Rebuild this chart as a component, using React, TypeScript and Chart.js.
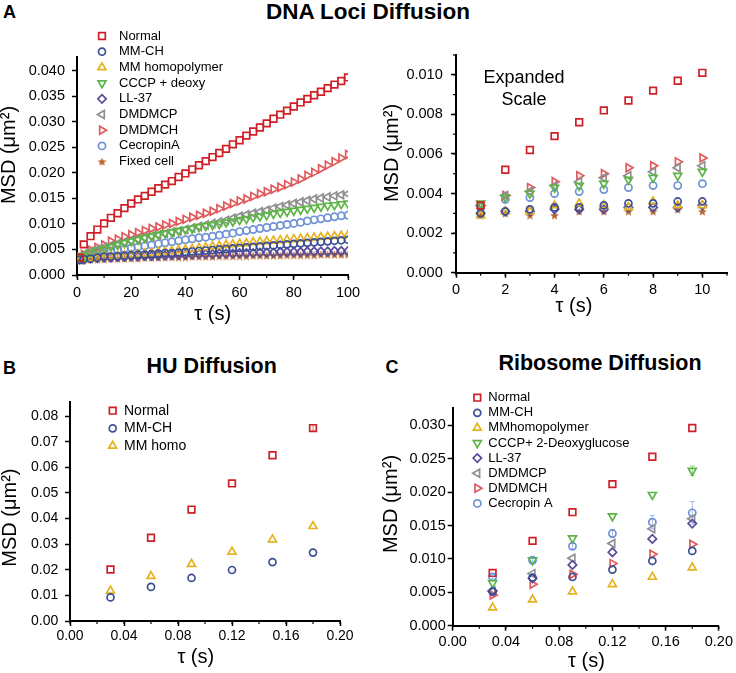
import React, { useEffect, useRef } from 'react';
import { Chart, registerables } from 'chart.js';
import { drawPoint } from 'chart.js/helpers';

Chart.register(...registerables);

const FONT = '"Liberation Sans", Arial, Helvetica, sans-serif';

// ---------------- DATA ----------------
// Panel A (left): DNA loci MSD, tau in seconds
const tauA = [1, 2.5, 5, 7.5, 10, 12.5, 15, 17.5, 20, 22.5, 25, 27.5, 30, 32.5, 35, 37.5, 40, 42.5, 45, 47.5, 50, 52.5, 55, 57.5, 60, 62.5, 65, 67.5, 70, 72.5, 75, 77.5, 80, 82.5, 85, 87.5, 90, 92.5, 95, 97.5, 100];
const dnaNormal = [0.0034, 0.0060, 0.0076, 0.0089, 0.0101, 0.0112, 0.0121, 0.0131, 0.0140, 0.0148, 0.0155, 0.0163, 0.0170, 0.0177, 0.0184, 0.0192, 0.0199, 0.0207, 0.0215, 0.0223, 0.0231, 0.0239, 0.0247, 0.0256, 0.0264, 0.0273, 0.0281, 0.0289, 0.0297, 0.0306, 0.0314, 0.0322, 0.0330, 0.0338, 0.0345, 0.0352, 0.0359, 0.0366, 0.0373, 0.0380, 0.0387];
const dnaMMCH = [0.0030, 0.0031, 0.0032, 0.0034, 0.0036, 0.0036, 0.0037, 0.0038, 0.0039, 0.0040, 0.0040, 0.0041, 0.0042, 0.0043, 0.0043, 0.0044, 0.0045, 0.0046, 0.0047, 0.0048, 0.0049, 0.0050, 0.0051, 0.0052, 0.0053, 0.0054, 0.0055, 0.0056, 0.0057, 0.0058, 0.0059, 0.0060, 0.0061, 0.0062, 0.0063, 0.0064, 0.0065, 0.0066, 0.0067, 0.0068, 0.0069];
const dnaMMhomo = [0.0030, 0.0030, 0.0032, 0.0033, 0.0034, 0.0036, 0.0037, 0.0038, 0.0039, 0.0041, 0.0042, 0.0043, 0.0045, 0.0046, 0.0047, 0.0049, 0.0050, 0.0051, 0.0053, 0.0054, 0.0056, 0.0057, 0.0059, 0.0060, 0.0061, 0.0062, 0.0064, 0.0065, 0.0066, 0.0067, 0.0068, 0.0069, 0.0070, 0.0071, 0.0072, 0.0073, 0.0074, 0.0075, 0.0076, 0.0077, 0.0078];
const dnaCCCP = [0.0035, 0.0038, 0.0044, 0.0048, 0.0051, 0.0055, 0.0059, 0.0063, 0.0066, 0.0069, 0.0073, 0.0076, 0.0079, 0.0082, 0.0084, 0.0087, 0.0089, 0.0091, 0.0094, 0.0096, 0.0098, 0.0100, 0.0103, 0.0105, 0.0108, 0.0110, 0.0113, 0.0115, 0.0117, 0.0120, 0.0122, 0.0124, 0.0126, 0.0128, 0.0130, 0.0132, 0.0134, 0.0136, 0.0137, 0.0139, 0.0140];
const dnaLL37 = [0.0030, 0.0030, 0.0032, 0.0033, 0.0034, 0.0034, 0.0035, 0.0035, 0.0036, 0.0036, 0.0037, 0.0037, 0.0038, 0.0038, 0.0039, 0.0039, 0.0040, 0.0040, 0.0041, 0.0041, 0.0041, 0.0042, 0.0042, 0.0042, 0.0043, 0.0043, 0.0043, 0.0044, 0.0044, 0.0044, 0.0045, 0.0045, 0.0045, 0.0045, 0.0046, 0.0046, 0.0046, 0.0046, 0.0047, 0.0047, 0.0047];
const dnaDMDMCP = [0.0034, 0.0040, 0.0046, 0.0050, 0.0054, 0.0058, 0.0061, 0.0064, 0.0067, 0.0070, 0.0073, 0.0076, 0.0078, 0.0081, 0.0084, 0.0086, 0.0089, 0.0092, 0.0095, 0.0098, 0.0101, 0.0104, 0.0107, 0.0111, 0.0115, 0.0118, 0.0121, 0.0124, 0.0127, 0.0131, 0.0134, 0.0137, 0.0140, 0.0143, 0.0146, 0.0149, 0.0151, 0.0153, 0.0155, 0.0157, 0.0159];
const dnaDMDMCH = [0.0035, 0.0040, 0.0049, 0.0054, 0.0059, 0.0066, 0.0070, 0.0075, 0.0079, 0.0083, 0.0087, 0.0091, 0.0094, 0.0098, 0.0101, 0.0105, 0.0109, 0.0113, 0.0117, 0.0121, 0.0125, 0.0130, 0.0135, 0.0140, 0.0145, 0.0149, 0.0154, 0.0159, 0.0163, 0.0168, 0.0172, 0.0177, 0.0182, 0.0188, 0.0195, 0.0201, 0.0208, 0.0215, 0.0222, 0.0229, 0.0236];
const dnaCecropin = [0.0033, 0.0037, 0.0040, 0.0043, 0.0045, 0.0047, 0.0049, 0.0051, 0.0053, 0.0055, 0.0057, 0.0059, 0.0061, 0.0063, 0.0065, 0.0067, 0.0069, 0.0071, 0.0073, 0.0074, 0.0076, 0.0078, 0.0080, 0.0082, 0.0085, 0.0087, 0.0089, 0.0091, 0.0093, 0.0095, 0.0097, 0.0099, 0.0101, 0.0103, 0.0106, 0.0108, 0.0110, 0.0112, 0.0114, 0.0116, 0.0117];
const dnaFixed = [0.0029, 0.0029, 0.0031, 0.0031, 0.0031, 0.0032, 0.0032, 0.0033, 0.0033, 0.0033, 0.0034, 0.0034, 0.0034, 0.0035, 0.0035, 0.0035, 0.0035, 0.0036, 0.0036, 0.0036, 0.0036, 0.0037, 0.0037, 0.0037, 0.0037, 0.0037, 0.0038, 0.0038, 0.0038, 0.0038, 0.0038, 0.0039, 0.0039, 0.0039, 0.0039, 0.0039, 0.0040, 0.0040, 0.0040, 0.0040, 0.0040];
const dnaLabels = ['Normal', 'MM-CH', 'MM homopolymer', 'CCCP + deoxy', 'LL-37', 'DMDMCP', 'DMDMCH', 'CecropinA', 'Fixed cell'];

// Panel A (right): expanded scale, first 10 s
const tauExp = [1, 2, 3, 4, 5, 6, 7, 8, 9, 10];
const expNormal = [0.0034, 0.0052, 0.0062, 0.0069, 0.0076, 0.0082, 0.0087, 0.0092, 0.0097, 0.0101];
const expMMCH = [0.0030, 0.0031, 0.0032, 0.0033, 0.0033, 0.0034, 0.0035, 0.0035, 0.0036, 0.0036];
const expMMhomo = [0.0029, 0.0031, 0.0031, 0.0034, 0.0035, 0.0034, 0.0033, 0.0036, 0.0034, 0.0034];
const expCCCP = [0.0035, 0.0038, 0.0040, 0.0043, 0.0044, 0.0045, 0.0047, 0.0048, 0.0049, 0.0051];
const expLL37 = [0.0030, 0.0031, 0.0031, 0.0032, 0.0032, 0.0032, 0.0033, 0.0033, 0.0033, 0.0034];
const expDMDMCP = [0.0034, 0.0039, 0.0041, 0.0044, 0.0046, 0.0048, 0.0049, 0.0051, 0.0053, 0.0054];
const expDMDMCH = [0.0034, 0.0039, 0.0043, 0.0046, 0.0049, 0.0050, 0.0053, 0.0054, 0.0056, 0.0058];
const expCecropin = [0.0033, 0.0037, 0.0038, 0.0040, 0.0041, 0.0042, 0.0043, 0.0044, 0.0044, 0.0045];
const expFixed = [0.0029, 0.0030, 0.0029, 0.0029, 0.0031, 0.0031, 0.0031, 0.0031, 0.0032, 0.0031];

// Panel B: HU diffusion
const tauHU = [0.03, 0.06, 0.09, 0.12, 0.15, 0.18];
const huNormal = [0.0201, 0.0325, 0.0435, 0.0537, 0.0647, 0.0753];
const huMMCH = [0.0092, 0.0133, 0.0168, 0.0199, 0.0230, 0.0267];
const huMMhomo = [0.0118, 0.0175, 0.0222, 0.0270, 0.0318, 0.0370];
const huNormalErr = [0, 0, 0, 0, 0, 0.0013];
const huLabels = ['Normal', 'MM-CH', 'MM homo'];

// Panel C: ribosome diffusion
const tauRibo = [0.03, 0.06, 0.09, 0.12, 0.15, 0.18];
const riboNormal = [0.0079, 0.0127, 0.0170, 0.0212, 0.0253, 0.0296];
const riboMMCH = [0.0051, 0.0072, 0.0073, 0.0084, 0.0097, 0.0112];
const riboMMhomo = [0.0027, 0.0039, 0.0051, 0.0062, 0.0073, 0.0087];
const riboCCCP = [0.0064, 0.0098, 0.0131, 0.0164, 0.0196, 0.0232];
const riboLL37 = [0.0052, 0.0071, 0.0091, 0.0110, 0.0130, 0.0153];
const riboDMDMCP = [0.0052, 0.0078, 0.0101, 0.0123, 0.0145, 0.0160];
const riboDMDMCH = [0.0046, 0.0062, 0.0077, 0.0093, 0.0107, 0.0122];
const riboCecropin = [0.0073, 0.0098, 0.0119, 0.0138, 0.0155, 0.0169];
const riboCecropinErr = [0.0003, 0.0003, 0.0004, 0.0006, 0.0010, 0.0017];
const riboCCCPErr = [0, 0, 0, 0, 0, 0.0007];
const riboLabels = ['Normal', 'MM-CH', 'MMhomopolymer', 'CCCP+ 2-Deoxyglucose', 'LL-37', 'DMDMCP', 'DMDMCH', 'Cecropin A'];

const xTitleText = 'τ (s)';
const yTitleText = 'MSD (μm²)';

// ---------------- STYLES ----------------
type Marker = { color: string; style: any; rotation: number; radius: number };
const markerStyles: Record<string, Marker> = {
  normal: { color: '#cf2027', style: 'rect', rotation: 0, radius: 4.7 },
  mmch: { color: '#3b4f95', style: 'circle', rotation: 0, radius: 3.5 },
  mmhomo: { color: '#e6b21f', style: 'triangle', rotation: 0, radius: 4.6 },
  cccp: { color: '#5cb546', style: 'triangle', rotation: 180, radius: 4.6 },
  ll37: { color: '#5a4b9b', style: 'rectRot', rotation: 0, radius: 4.2 },
  dmdmcp: { color: '#8f8f8f', style: 'triangle', rotation: -90, radius: 4.6 },
  dmdmch: { color: '#e05a5c', style: 'triangle', rotation: 90, radius: 4.6 },
  cecropin: { color: '#6e92d5', style: 'circle', rotation: 0, radius: 3.6 },
  fixed: { color: '#b8662c', style: 'star', rotation: 0, radius: 4.5 },
};

function makeStar(color: string, size: number) {
  const c = document.createElement('canvas');
  c.width = size;
  c.height = size;
  const g = c.getContext('2d')!;
  g.fillStyle = color;
  g.beginPath();
  for (let k = 0; k < 10; k++) {
    const r = k % 2 === 0 ? size / 2 : size / 4.4;
    const a = -Math.PI / 2 + (k * Math.PI) / 5;
    g.lineTo(size / 2 + r * Math.cos(a), size / 2 + 0.5 + r * Math.sin(a));
  }
  g.closePath();
  g.fill();
  return c;
}

// ---------------- PLUGINS ----------------
const panelLegend = {
  id: 'panelLegend',
  afterDraw(chart: any, _a: any, opts: any) {
    if (!opts || !opts.show) return;
    const ctx = chart.ctx;
    ctx.save();
    chart.data.datasets.forEach((ds: any, i: number) => {
      const y = opts.y + i * opts.rowH;
      ctx.save();
      ctx.strokeStyle = ds.borderColor;
      ctx.fillStyle = 'rgba(0,0,0,0)';
      ctx.lineWidth = ds.borderWidth;
      drawPoint(ctx, { pointStyle: ds.pointStyle, rotation: ds.rotation || 0, radius: ds.pointRadius, borderWidth: ds.borderWidth } as any, opts.markerX, y);
      ctx.restore();
      ctx.fillStyle = '#000';
      ctx.font = `${opts.fontSize}px ${FONT}`;
      ctx.textBaseline = 'middle';
      ctx.textAlign = 'left';
      ctx.fillText(ds.label, opts.textX, y);
    });
    ctx.restore();
  },
};

const minorTicks = {
  id: 'minorTicks',
  afterDraw(chart: any, _a: any, opts: any) {
    if (!opts) return;
    const ctx = chart.ctx;
    ctx.save();
    ctx.strokeStyle = '#000';
    ctx.lineWidth = 1.2;
    if (opts.xStep) {
      const xs = chart.scales.x;
      const y0 = chart.chartArea.bottom;
      const n = Math.round((xs.max - xs.min) / opts.xStep);
      for (let k = 0; k <= n; k++) {
        const px = xs.getPixelForValue(xs.min + k * opts.xStep);
        ctx.beginPath();
        ctx.moveTo(px, y0);
        ctx.lineTo(px, y0 + opts.len);
        ctx.stroke();
      }
    }
    if (opts.yStep) {
      const ys = chart.scales.y;
      const x0 = chart.chartArea.left;
      const n = Math.floor((ys.max - ys.min) / opts.yStep + 1e-9);
      for (let k = 0; k <= n; k++) {
        const py = ys.getPixelForValue(ys.min + k * opts.yStep);
        ctx.beginPath();
        ctx.moveTo(x0, py);
        ctx.lineTo(x0 - opts.len, py);
        ctx.stroke();
      }
    }
    ctx.restore();
  },
};

const errorBars = {
  id: 'errorBars',
  afterDatasetsDraw(chart: any) {
    const ctx = chart.ctx;
    const xs = chart.scales.x;
    const ys = chart.scales.y;
    chart.data.datasets.forEach((ds: any) => {
      if (!ds.errorBars) return;
      ctx.save();
      ctx.strokeStyle = ds.borderColor;
      ctx.globalAlpha = 0.6;
      ctx.lineWidth = 1;
      ds.data.forEach((pt: any, i: number) => {
        const e = ds.errorBars[i];
        if (!e) return;
        const px = xs.getPixelForValue(pt.x);
        const t = ys.getPixelForValue(pt.y + e);
        const b = ys.getPixelForValue(pt.y - e);
        ctx.beginPath();
        ctx.moveTo(px, t);
        ctx.lineTo(px, b);
        ctx.moveTo(px - 2.5, t);
        ctx.lineTo(px + 2.5, t);
        ctx.moveTo(px - 2.5, b);
        ctx.lineTo(px + 2.5, b);
        ctx.stroke();
      });
      ctx.restore();
    });
  },
};

// axis titles placed where the original figure has them
const axisTitles = {
  id: 'axisTitles',
  afterDraw(chart: any, _a: any, opts: any) {
    if (!opts) return;
    const ctx = chart.ctx;
    ctx.save();
    ctx.fillStyle = '#000';
    ctx.font = `${opts.size}px ${FONT}`;
    ctx.textAlign = 'center';
    ctx.textBaseline = 'middle';
    ctx.fillText(opts.xText, opts.xcx, opts.xcy);
    ctx.translate(opts.ycx, opts.ycy);
    ctx.rotate(-Math.PI / 2);
    ctx.fillText(opts.yText, 0, 0);
    ctx.restore();
  },
};

// ---------------- PANEL SPECS ----------------
type SeriesSpec = { label: string; y: number[]; key: string; err?: number[] };
type PanelSpec = {
  left: number; top: number; w: number; h: number;
  pad: { top: number; right: number };
  yWidth: number; xHeight: number;
  x: number[]; series: SeriesSpec[];
  xMin: number; xMax: number; xStep: number; xDec: number; xTickPad: number; xMinor: number;
  yMin: number; yMax: number; yStep: number; yDec: number; yTickPad: number; yMinor?: number;
  tickSize: number;
  xTitleAt: [number, number]; yTitleAt: [number, number];
  legend?: { markerX: number; textX: number; y: number; rowH: number; fontSize: number };
};

function buildConfig(p: PanelSpec): any {
  const star = makeStar(markerStyles.fixed.color, 9);
  const datasets = p.series.map((s) => {
    const m = markerStyles[s.key];
    return {
      label: s.label,
      data: p.x.map((x, i) => ({ x, y: s.y[i] })),
      showLine: false,
      pointStyle: m.style === 'star' ? star : m.style,
      rotation: m.rotation,
      pointRadius: m.radius,
      pointHoverRadius: m.radius,
      borderColor: m.color,
      backgroundColor: 'rgba(255,255,255,0)',
      borderWidth: 1.7,
      errorBars: s.err,
    };
  });
  return {
    type: 'scatter',
    data: { datasets },
    options: {
      animation: false,
      responsive: false,
      maintainAspectRatio: false,
      events: [],
      layout: { padding: { top: p.pad.top, right: p.pad.right, bottom: 0, left: 0 } },
      plugins: {
        legend: { display: false },
        tooltip: { enabled: false },
        panelLegend: p.legend ? { show: true, ...p.legend } : { show: false },
        minorTicks: { xStep: p.xMinor, yStep: p.yMinor, len: 3 },
        axisTitles: {
          size: 20,
          xText: xTitleText,
          yText: yTitleText,
          xcx: p.xTitleAt[0] - p.left,
          xcy: p.xTitleAt[1] - p.top,
          ycx: p.yTitleAt[0] - p.left,
          ycy: p.yTitleAt[1] - p.top,
        },
      },
      scales: {
        x: {
          type: 'linear',
          min: p.xMin,
          max: p.xMax,
          ticks: {
            stepSize: p.xStep,
            includeBounds: false,
            autoSkip: false,
            maxRotation: 0,
            padding: p.xTickPad,
            color: '#000',
            font: { size: p.tickSize, family: FONT },
            callback: (v: any) => Number(v).toFixed(p.xDec),
          },
          grid: { display: true, drawOnChartArea: false, drawTicks: true, tickLength: 5, tickColor: '#000', tickWidth: 1.5 },
          border: { display: true, color: '#000', width: 2 },
          title: { display: false },
          afterFit: (s: any) => { s.height = p.xHeight; },
        },
        y: {
          type: 'linear',
          min: p.yMin,
          max: p.yMax,
          ticks: {
            stepSize: p.yStep,
            includeBounds: false,
            autoSkip: false,
            padding: p.yTickPad,
            color: '#000',
            font: { size: p.tickSize, family: FONT },
            callback: (v: any) => Number(v).toFixed(p.yDec),
          },
          grid: { display: true, drawOnChartArea: false, drawTicks: true, tickLength: 5, tickColor: '#000', tickWidth: 1.5 },
          border: { display: true, color: '#000', width: 2 },
          title: { display: false },
          afterFit: (s: any) => { s.width = p.yWidth; },
        },
      },
    },
    plugins: [errorBars, minorTicks, panelLegend, axisTitles],
  };
}

const panelA: PanelSpec = {
  left: 0, top: 25, w: 365, h: 310,
  pad: { top: 32, right: 17 }, yWidth: 77, xHeight: 60,
  x: tauA,
  series: [
    { label: dnaLabels[0], y: dnaNormal, key: 'normal' },
    { label: dnaLabels[1], y: dnaMMCH, key: 'mmch' },
    { label: dnaLabels[2], y: dnaMMhomo, key: 'mmhomo' },
    { label: dnaLabels[3], y: dnaCCCP, key: 'cccp' },
    { label: dnaLabels[4], y: dnaLL37, key: 'll37' },
    { label: dnaLabels[5], y: dnaDMDMCP, key: 'dmdmcp' },
    { label: dnaLabels[6], y: dnaDMDMCH, key: 'dmdmch' },
    { label: dnaLabels[7], y: dnaCecropin, key: 'cecropin' },
    { label: dnaLabels[8], y: dnaFixed, key: 'fixed' },
  ],
  xMin: 0, xMax: 100, xStep: 20, xDec: 0, xTickPad: 4.5, xMinor: 10,
  yMin: 0, yMax: 0.0427, yStep: 0.005, yDec: 3, yTickPad: 7,
  tickSize: 14.5,
  xTitleAt: [212.7, 314.2], yTitleAt: [9.7, 155],
  legend: { markerX: 102, textX: 119, y: 11, rowH: 15.7, fontSize: 13 },
};

const panelAExp: PanelSpec = {
  left: 382, top: 25, w: 354, h: 310,
  pad: { top: 30, right: 9 }, yWidth: 74, xHeight: 62.3,
  x: tauExp,
  series: [
    { label: dnaLabels[0], y: expNormal, key: 'normal' },
    { label: dnaLabels[1], y: expMMCH, key: 'mmch' },
    { label: dnaLabels[2], y: expMMhomo, key: 'mmhomo' },
    { label: dnaLabels[3], y: expCCCP, key: 'cccp' },
    { label: dnaLabels[4], y: expLL37, key: 'll37' },
    { label: dnaLabels[5], y: expDMDMCP, key: 'dmdmcp' },
    { label: dnaLabels[6], y: expDMDMCH, key: 'dmdmch' },
    { label: dnaLabels[7], y: expCecropin, key: 'cecropin' },
    { label: dnaLabels[8], y: expFixed, key: 'fixed' },
  ],
  xMin: 0, xMax: 11, xStep: 2, xDec: 0, xTickPad: 3.2, xMinor: 1,
  yMin: 0, yMax: 0.011, yStep: 0.002, yDec: 3, yTickPad: 8.3, yMinor: 0.001,
  tickSize: 14.5,
  xTitleAt: [574, 306.6], yTitleAt: [392.5, 153],
};

const panelB: PanelSpec = {
  left: 0, top: 380, w: 362, h: 293,
  pad: { top: 21.7, right: 22 }, yWidth: 70, xHeight: 52,
  x: tauHU,
  series: [
    { label: huLabels[0], y: huNormal, key: 'normal', err: huNormalErr },
    { label: huLabels[1], y: huMMCH, key: 'mmch' },
    { label: huLabels[2], y: huMMhomo, key: 'mmhomo' },
  ],
  xMin: 0, xMax: 0.2, xStep: 0.04, xDec: 2, xTickPad: 1.5, xMinor: 0.02,
  yMin: 0, yMax: 0.0856, yStep: 0.01, yDec: 2, yTickPad: 6.7,
  tickSize: 14,
  xTitleAt: [195.8, 657.3], yTitleAt: [10.8, 517.6],
  legend: { markerX: 112.7, textX: 124, y: 30.7, rowH: 17.6, fontSize: 14 },
};

const panelC: PanelSpec = {
  left: 382, top: 380, w: 354, h: 293,
  pad: { top: 28, right: 14 }, yWidth: 70.7, xHeight: 47.3,
  x: tauRibo,
  series: [
    { label: riboLabels[0], y: riboNormal, key: 'normal' },
    { label: riboLabels[1], y: riboMMCH, key: 'mmch' },
    { label: riboLabels[2], y: riboMMhomo, key: 'mmhomo' },
    { label: riboLabels[3], y: riboCCCP, key: 'cccp', err: riboCCCPErr },
    { label: riboLabels[4], y: riboLL37, key: 'll37' },
    { label: riboLabels[5], y: riboDMDMCP, key: 'dmdmcp' },
    { label: riboLabels[6], y: riboDMDMCH, key: 'dmdmch' },
    { label: riboLabels[7], y: riboCecropin, key: 'cecropin', err: riboCecropinErr },
  ],
  xMin: 0, xMax: 0.2, xStep: 0.04, xDec: 2, xTickPad: 3, xMinor: 0.02,
  yMin: 0, yMax: 0.0326, yStep: 0.005, yDec: 3, yTickPad: 2,
  tickSize: 14.5,
  xTitleAt: [586.5, 661], yTitleAt: [391.7, 504],
  legend: { markerX: 95.3, textX: 106.3, y: 17.7, rowH: 15.1, fontSize: 13 },
};

// ---------------- COMPONENTS ----------------
function PanelChart({ spec }: { spec: PanelSpec }) {
  const ref = useRef<HTMLCanvasElement>(null);
  useEffect(() => {
    if (!ref.current) return;
    const chart = new Chart(ref.current, buildConfig(spec));
    return () => chart.destroy();
  }, [spec]);
  return (
    <canvas
      ref={ref}
      width={spec.w}
      height={spec.h}
      style={{ position: 'absolute', left: spec.left, top: spec.top, width: spec.w, height: spec.h }}
    />
  );
}

function Label({ text, x, y, size, bold = true, center = false }: { text: string; x: number; y: number; size: number; bold?: boolean; center?: boolean }) {
  return (
    <div
      style={{
        position: 'absolute',
        left: x,
        top: y,
        fontFamily: FONT,
        fontSize: size,
        fontWeight: bold ? 700 : 400,
        lineHeight: 1,
        whiteSpace: 'nowrap',
        color: '#000',
        transform: center ? 'translateX(-50%)' : undefined,
      }}
    >
      {text}
    </div>
  );
}

export default function App() {
  return (
    <div style={{ position: 'absolute', left: 0, top: 0, width: 736, height: 673, background: '#fff', overflow: 'hidden' }}>
      <PanelChart spec={panelA} />
      <PanelChart spec={panelAExp} />
      <PanelChart spec={panelB} />
      <PanelChart spec={panelC} />
      <Label text="A" x={3} y={3.2} size={18} />
      <Label text="DNA Loci Diffusion" x={368} y={1.2} size={22.5} center />
      <Label text="B" x={3} y={358.7} size={18} />
      <Label text="HU Diffusion" x={211.7} y={355.5} size={21.5} center />
      <Label text="C" x={385.5} y={357.9} size={18} />
      <Label text="Ribosome Diffusion" x={600} y={352.8} size={21.5} center />
      <div
        style={{
          position: 'absolute',
          left: 524,
          top: 66.3,
          transform: 'translateX(-50%)',
          fontFamily: FONT,
          fontSize: 18,
          lineHeight: '22px',
          textAlign: 'center',
          whiteSpace: 'nowrap',
          color: '#000',
        }}
      >
        Expanded
        <br />
        Scale
      </div>
    </div>
  );
}
